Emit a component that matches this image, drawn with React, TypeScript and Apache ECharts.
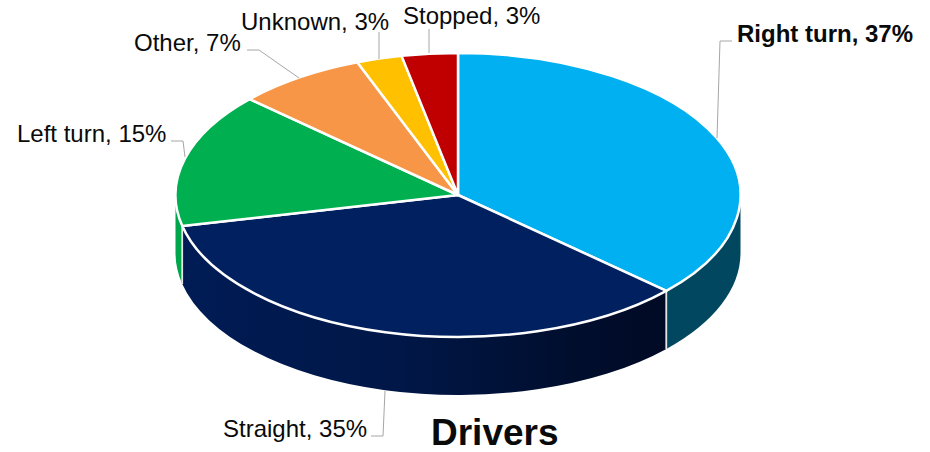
import React, { useEffect, useRef } from "react";
import * as echarts from "echarts";

const categories = ["Right turn", "Straight", "Left turn", "Other", "Unknown", "Stopped"];
const shares = [36.8, 34.7, 15.3, 7.4, 2.6, 3.2];
const topColors = ["#00B0F0", "#002060", "#00B050", "#F79646", "#FFC000", "#C00000"];
const boldFlags = [true, false, false, false, false, false];
const titleText = "Drivers";

// Layout of the tilted disc
const CX = 458;
const CY = 195;
const RX = 282.5;
const RY = 142;
const DEPTH = 58;

// Label placement, per category
const labelAnchors = [
  { x: 737, y: 33, line: [[717, 138], [720, 41], [732, 41]] },
  { x: 223, y: 428, line: [[385, 391], [383, 436], [371, 436]] },
  { x: 17, y: 133, line: [[185, 157], [183, 141], [171, 141]] },
  { x: 134, y: 42, line: [[299, 78], [259, 50], [247, 50]] },
  { x: 241, y: 21, line: [[379, 59], [379, 32]] },
  { x: 403, y: 15, line: [[429, 53], [429, 29]] },
];

const wallFills: any[] = [
  "#00475F",
  {
    type: "linear", x: 0, y: 0, x2: 1, y2: 0,
    colorStops: [
      { offset: 0, color: "#001C55" },
      { offset: 0.45, color: "#001747" },
      { offset: 0.8, color: "#000E2E" },
      { offset: 1, color: "#000A24" },
    ],
  },
  "#00A64B",
  "#B06A30",
  "#B38600",
  "#860000",
];

const pt = (deg: number, dy = 0): [number, number] => {
  const a = (deg * Math.PI) / 180;
  return [CX + RX * Math.sin(a), CY - RY * Math.cos(a) + dy];
};

const renderItem = (params: any, api: any) => {
  const i = params.dataIndex;
  const startDeg = (api.value(0) / 100) * 360;
  const endDeg = (api.value(1) / 100) * 360;
  const children: any[] = [];

  // Front wall: only the part of the slice that lies between 90° and 270°
  const w0 = Math.max(startDeg, 90);
  const w1 = Math.min(endDeg, 270);
  if (w1 > w0) {
    const a = pt(w0);
    const b = pt(w1);
    const c = pt(w1, DEPTH);
    const d = pt(w0, DEPTH);
    children.push({
      type: "path",
      z2: 1,
      shape: {
        pathData: `M${a[0]} ${a[1]}A${RX} ${RY} 0 0 1 ${b[0]} ${b[1]}L${c[0]} ${c[1]}A${RX} ${RY} 0 0 0 ${d[0]} ${d[1]}Z`,
      },
      style: { fill: wallFills[i], stroke: null },
    });
    [startDeg, endDeg].forEach((deg) => {
      if (deg > 90 && deg < 270) {
        const p = pt(deg);
        children.push({
          type: "line",
          z2: 2,
          shape: { x1: p[0], y1: p[1], x2: p[0], y2: p[1] + DEPTH },
          style: { stroke: "#E6E6E6", lineWidth: 1.5 },
        });
      }
    });
  }

  // Top face
  const s = pt(startDeg);
  const e = pt(endDeg);
  const large = endDeg - startDeg > 180 ? 1 : 0;
  children.push({
    type: "path",
    z2: 3,
    shape: {
      pathData: `M${CX} ${CY}L${s[0]} ${s[1]}A${RX} ${RY} 0 ${large} 1 ${e[0]} ${e[1]}Z`,
    },
    style: { fill: topColors[i], stroke: "#FFFFFF", lineWidth: 2.5, lineJoin: "round" },
  });

  // Leader line and label
  const anchor = labelAnchors[i];
  children.push({
    type: "polyline",
    z2: 4,
    shape: { points: anchor.line },
    style: { fill: null, stroke: "#A6A6A6", lineWidth: 1 },
  });
  children.push({
    type: "text",
    z2: 5,
    style: {
      text: `${categories[i]}, ${Math.round(shares[i])}%`,
      x: anchor.x,
      y: anchor.y,
      textAlign: "left",
      textVerticalAlign: "middle",
      verticalAlign: "middle",
      fill: "#0A0A0A",
      font: `${boldFlags[i] ? "bold " : ""}24px "Liberation Sans", Arial, sans-serif`,
    },
  });

  return { type: "group", children };
};

export default function App() {
  const ref = useRef<HTMLDivElement>(null);

  useEffect(() => {
    document.body.style.margin = "0";
    const chart = echarts.init(ref.current!, null, { renderer: "svg" });
    let running = 0;
    const rows = shares.map((v) => {
      const row = [running, running + v];
      running += v;
      return row;
    });
    chart.setOption({
      animation: false,
      backgroundColor: "#FFFFFF",
      title: {
        text: titleText,
        left: 431,
        top: 414,
        padding: 0,
        textStyle: {
          fontFamily: '"Liberation Sans", Arial, sans-serif',
          fontWeight: "bold",
          fontSize: 37,
          color: "#0A0A0A",
        },
      },
      series: [
        {
          type: "custom",
          coordinateSystem: "none",
          silent: true,
          renderItem,
          data: rows,
        },
      ],
    });
    return () => chart.dispose();
  }, []);

  return <div ref={ref} style={{ width: 930, height: 452 }} />;
}
